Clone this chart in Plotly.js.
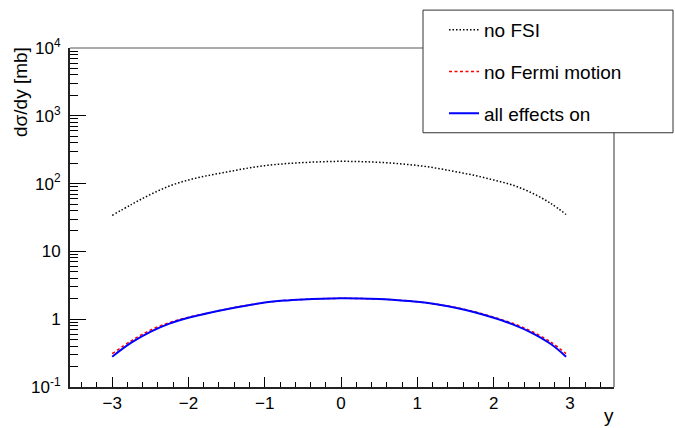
<!DOCTYPE html>
<html>
<head>
<meta charset="utf-8">
<script src="https://cdn.plot.ly/plotly-3.0.1.min.js"></script>
<style>html,body{margin:0;padding:0;background:#fff;}#chart{width:675px;height:428px;}</style>
</head>
<body>
<div id="chart"></div>
<script>
const rapidity = [-3, -2.75, -2.5, -2.25, -2, -1.75, -1.5, -1.25, -1, -0.75, -0.5, -0.25, 0, 0.25, 0.5, 0.75, 1, 1.25, 1.5, 1.75, 2, 2.25, 2.5, 2.75, 2.95];
const noFSI = [34, 49, 69, 92, 113, 131, 148, 167, 184, 196, 204, 210, 213, 211, 206, 197, 185, 169, 150, 132, 113, 95, 73, 51, 35];
const noFermi = [0.31, 0.48, 0.69, 0.89, 1.07, 1.23, 1.41, 1.59, 1.76, 1.88, 1.96, 2.01, 2.03, 2.02, 1.98, 1.91, 1.81, 1.66, 1.49, 1.29, 1.07, 0.87, 0.66, 0.46, 0.31];
const allOn = [0.28, 0.45, 0.65, 0.86, 1.05, 1.22, 1.40, 1.58, 1.76, 1.88, 1.96, 2.01, 2.03, 2.02, 1.98, 1.91, 1.81, 1.66, 1.48, 1.27, 1.05, 0.84, 0.63, 0.43, 0.28];
const seriesNames = ["no FSI", "no Fermi motion", "all effects on"];
const yTickVals = [0.1, 1, 10, 100, 1000, 10000];
const yTickText = ["10<sup>-1</sup>", "1", "10", "10<sup>2</sup>", "10<sup>3</sup>", "10<sup>4</sup>"];
const xTickVals = [-3, -2, -1, 0, 1, 2, 3];

const font = "Liberation Sans, Arial, Helvetica, sans-serif";

const traces = [
  {x: rapidity, y: noFSI, name: seriesNames[0], mode: "lines", line: {color: "black", width: 1.5, dash: "1.5px,2px", shape: "spline"}, legendgroup: "a"},
  {x: rapidity, y: noFermi, name: seriesNames[1], mode: "lines", line: {color: "#ff0000", width: 1.5, dash: "3px,2.5px", shape: "spline"}, legendgroup: "b"},
  {x: rapidity, y: allOn, name: seriesNames[2], mode: "lines", line: {color: "#0000ff", width: 2, shape: "spline"}, legendgroup: "c"}
];

const L = 70, R = 614, T = 47, B = 387, W = 675, H = 428;
const pw = R - L, ph = B - T;
const px = v => (v - L) / pw;
const py = v => (B - v) / ph;

const layout = {
  width: W, height: H,
  margin: {l: L, r: W - R, t: T, b: H - B},
  paper_bgcolor: "white", plot_bgcolor: "white",
  font: {family: font, size: 17, color: "black"},
  showlegend: true,
  legend: {
    x: px(444), y: py(11), xanchor: "left", yanchor: "top",
    bgcolor: "rgba(0,0,0,0)", borderwidth: 0,
    font: {family: font, size: 19, color: "black"},
    traceorder: "grouped", tracegroupgap: 14
  },
  xaxis: {
    range: [-3.553, 3.578],
    tickmode: "array", tickvals: xTickVals,
    ticks: "inside", ticklen: 10, tickwidth: 1, tickcolor: "black",
    minor: {dtick: 0.2, tick0: 0, ticks: "inside", ticklen: 5, tickwidth: 1, tickcolor: "black", showgrid: false},
    showline: true, linewidth: 2, linecolor: "#222",
    showgrid: false, zeroline: false,
    tickfont: {family: font, size: 17},
    title: {text: ""}
  },
  yaxis: {
    type: "log", range: [-1, 4],
    tickmode: "array", tickvals: yTickVals, ticktext: yTickText,
    ticks: "inside", ticklen: 16, tickwidth: 1, tickcolor: "black",
    minor: {dtick: "D1", ticks: "inside", ticklen: 8, tickwidth: 1, tickcolor: "black", showgrid: false},
    showline: true, linewidth: 2, linecolor: "#222",
    showgrid: false, zeroline: false,
    tickfont: {family: font, size: 17},
    ticklabelstandoff: 4,
    title: {text: ""}
  },
  shapes: [
    {type: "line", xref: "paper", yref: "paper", x0: 0, x1: 1, y0: 1, y1: 1, line: {color: "#555", width: 1}},
    {type: "line", xref: "paper", yref: "paper", x0: 1, x1: 1, y0: 0, y1: 1, line: {color: "#777", width: 1.5}},
    {type: "rect", xref: "paper", yref: "paper", x0: px(423), x1: px(673), y0: py(132), y1: py(9), fillcolor: "white", line: {color: "#333", width: 1}, layer: "above"}
  ],
  annotations: [
    {text: "dσ/dy [mb]", xref: "paper", yref: "paper", x: px(20), y: py(44), xanchor: "center", yanchor: "top", textangle: -90, showarrow: false, font: {family: font, size: 19}},
    {text: "y", xref: "paper", yref: "paper", x: px(616), y: py(403), xanchor: "right", yanchor: "top", showarrow: false, font: {family: font, size: 19}}
  ]
};

Plotly.newPlot("chart", traces, layout, {displayModeBar: false, staticPlot: true});
</script>
</body>
</html>
